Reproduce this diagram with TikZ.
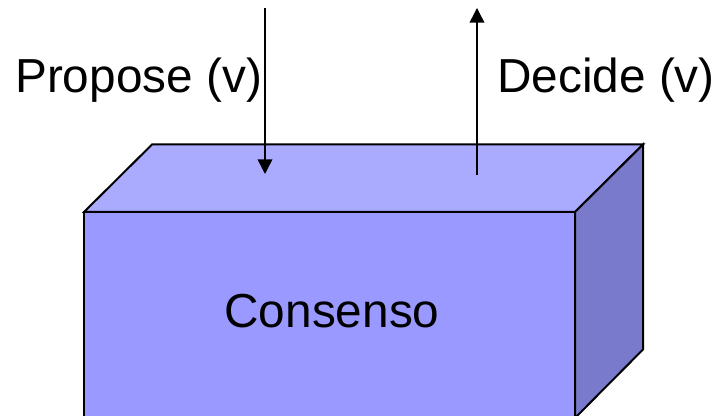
\documentclass[tikz,border=0pt]{standalone}
\usepackage{fontspec}
\setmainfont{Liberation Sans}
\usetikzlibrary{arrows.meta}
\definecolor{topc}{RGB}{170,170,255}
\definecolor{frontc}{RGB}{153,153,255}
\definecolor{sidec}{RGB}{122,122,204}
\tikzset{
  face/.style={draw=black, line width=1.5pt, line join=miter},
  lbl/.style={inner sep=0pt, font=\fontsize{35.8}{42}\selectfont},
  flow/.style={draw=black, line width=1.1pt, -{Triangle[width=11pt,length=11pt]}}
}
\begin{document}
\begin{tikzpicture}[x=0.75pt,y=-0.75pt]
\useasboundingbox (0,0) rectangle (715,416);
\begin{scope}
\clip (0,0) rectangle (715,416);
% top face
\path[face, fill=topc] (84,212) -- (152,144.5) -- (643,144.5) -- (575,212) -- cycle;
% side face
\path[face, fill=sidec] (575,212) -- (643,144.5) -- (643,349.5) -- (575,418) -- cycle;
% front face
\path[face, fill=frontc] (84,212) rectangle (575,420);
\end{scope}
\node[lbl, anchor=base] (cons) at (332,328) {Consenso};
\node[lbl, anchor=base west] (prop) at (15,93) {Propose (v)};
\node[lbl, anchor=base west] (dec) at (497,93) {Decide (v)};
\coordinate (pin) at (265,8);
\coordinate (pout) at (265,174);
\coordinate (din) at (477,175);
\coordinate (dout) at (477,8);
\draw[flow] (pin) -- (pout);
\draw[flow] (din) -- (dout);
\end{tikzpicture}
\end{document}
